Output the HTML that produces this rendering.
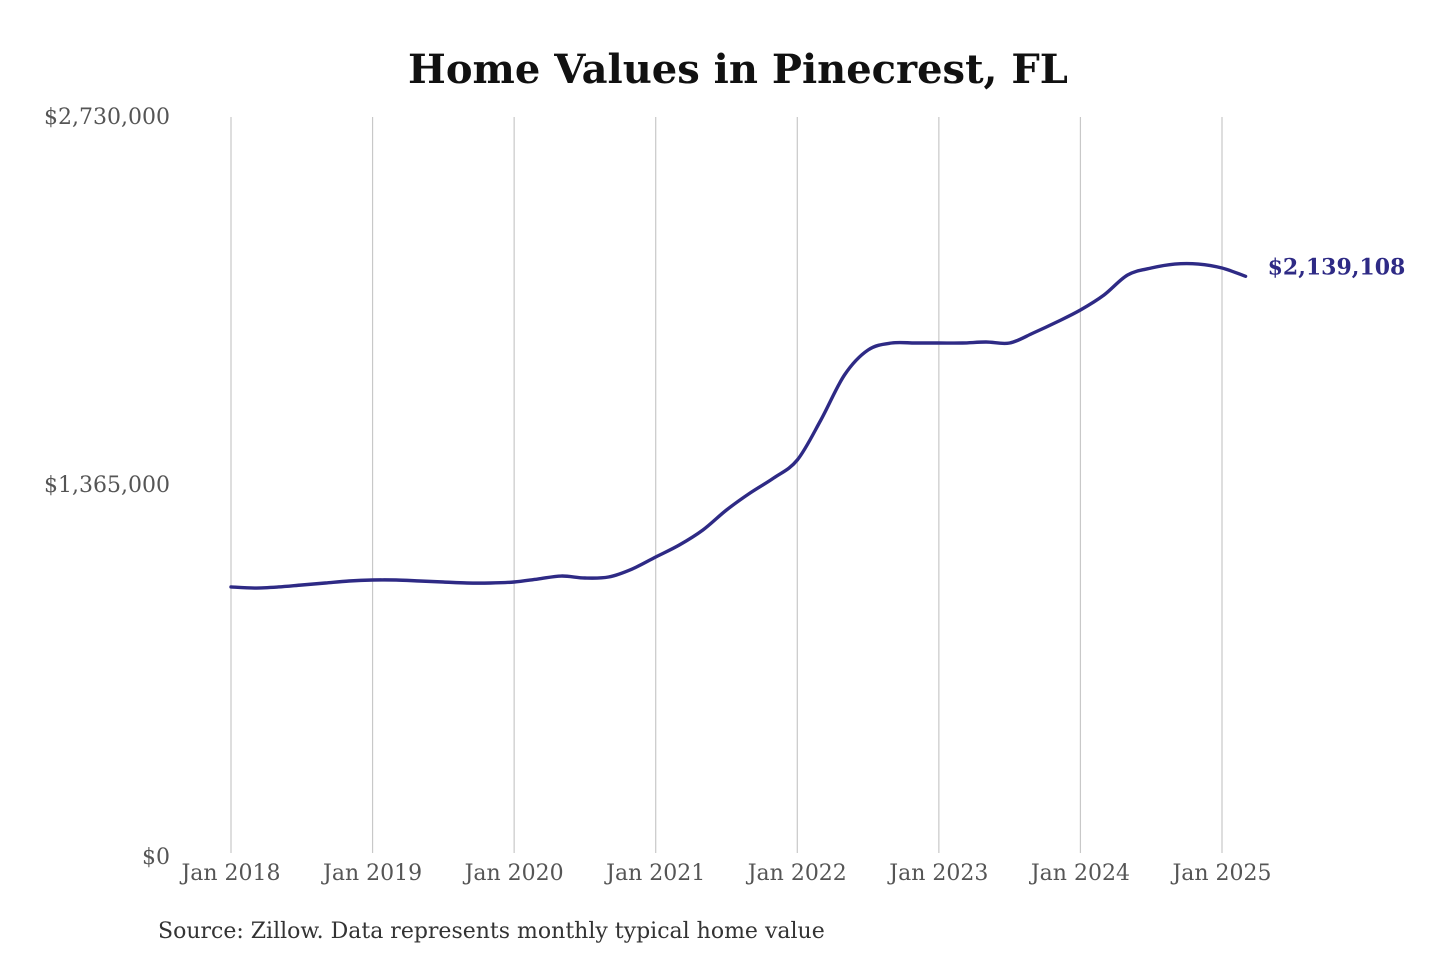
<!DOCTYPE html>
<html><head><meta charset="utf-8"><style>
html,body{margin:0;padding:0;background:#fff;}
svg{display:block;font-family:"DejaVu Serif","Liberation Serif",serif;}
</style></head><body>
<svg id="chart" width="1440" height="960" viewBox="0 0 1440 960" xmlns="http://www.w3.org/2000/svg">
<text x="738" y="83" text-anchor="middle" font-size="40" font-weight="bold" fill="#111">Home Values in Pinecrest, FL</text>
<g id="grid"></g><g id="yticks"></g><g id="xticks"></g><g id="series"></g>
<text x="158" y="938" font-size="22" fill="#333">Source: Zillow. Data represents monthly typical home value</text>
</svg>
<script>
const yTickValues = [0, 1365000, 2730000];
const yTickLabels = ["$0", "$1,365,000", "$2,730,000"];
const xTickYears = [2018, 2019, 2020, 2021, 2022, 2023, 2024, 2025];
const xTickLabels = ["Jan 2018","Jan 2019","Jan 2020","Jan 2021","Jan 2022","Jan 2023","Jan 2024","Jan 2025"];
// month offsets from Jan 2018
const months = [0,2,4,6,8,10,12,14,16,18,20,22,24,26,28,30,32,34,36,38,40,42,44,46,48,50,52,54,56,58,60,62,64,66,68,70,72,74,76,78,80,82,84,86];
const values = [986700,982900,986700,994100,1001500,1008900,1012600,1012600,1008900,1005200,1001500,1001500,1005200,1016300,1027400,1020000,1023700,1053400,1097900,1142400,1198100,1272300,1335300,1391000,1457700,1606100,1773000,1865700,1891700,1891700,1891700,1891700,1895400,1891700,1928800,1969600,2014100,2069700,2143900,2169900,2184700,2184700,2169900,2139108];
const lastLabel = "$2,139,108";

const NS="http://www.w3.org/2000/svg";
const x0=231, yearW=141.57, yTop=117, yBot=853, yMax=2730000;
const xScale=m=>x0+m/12*yearW;
const yScale=v=>yBot-v/yMax*(yBot-yTop);
function mk(tag,attrs,parent){const e=document.createElementNS(NS,tag);for(const k in attrs)e.setAttribute(k,attrs[k]);parent.appendChild(e);return e;}
const grid=document.getElementById('grid'),yt=document.getElementById('yticks'),xt=document.getElementById('xticks'),ser=document.getElementById('series');
xTickYears.forEach((yr,i)=>{
  const x=xScale((yr-2018)*12);
  const l=mk('line',{x1:x,x2:x,y1:yTop,y2:yBot,stroke:'#c8c8c8','stroke-width':1.2},grid);
  
  
  const t=mk('text',{x:x,y:880,'text-anchor':'middle','font-size':22,fill:'#555'},xt);
  t.textContent=xTickLabels[i];
  
  
});
yTickValues.forEach((v,i)=>{
  const t=mk('text',{x:170,y:yScale(v)+7+(v===0?4:0),'text-anchor':'end','font-size':22,fill:'#555'},yt);
  t.textContent=yTickLabels[i];
  
  
});
const pts=months.map((m,i)=>[xScale(m),yScale(values[i])]);
let d='M'+pts[0][0]+','+pts[0][1];
for(let i=0;i<pts.length-1;i++){
  const p0=pts[Math.max(0,i-1)],p1=pts[i],p2=pts[i+1],p3=pts[Math.min(pts.length-1,i+2)];
  const c1=[p1[0]+(p2[0]-p0[0])/6,p1[1]+(p2[1]-p0[1])/6],c2=[p2[0]-(p3[0]-p1[0])/6,p2[1]-(p3[1]-p1[1])/6];
  d+=' C'+c1+' '+c2+' '+p2;
}
const path=mk('path',{d:d,fill:'none',stroke:'#2e2a85','stroke-width':3.4,'stroke-linejoin':'round','stroke-linecap':'round'},ser);


const lp=pts[pts.length-1];
const lab=mk('text',{x:lp[0]+22,y:lp[1]-2,'font-size':22,'font-weight':'bold',fill:'#2e2a85'},ser);
lab.textContent=lastLabel;


</script>
</body></html>
